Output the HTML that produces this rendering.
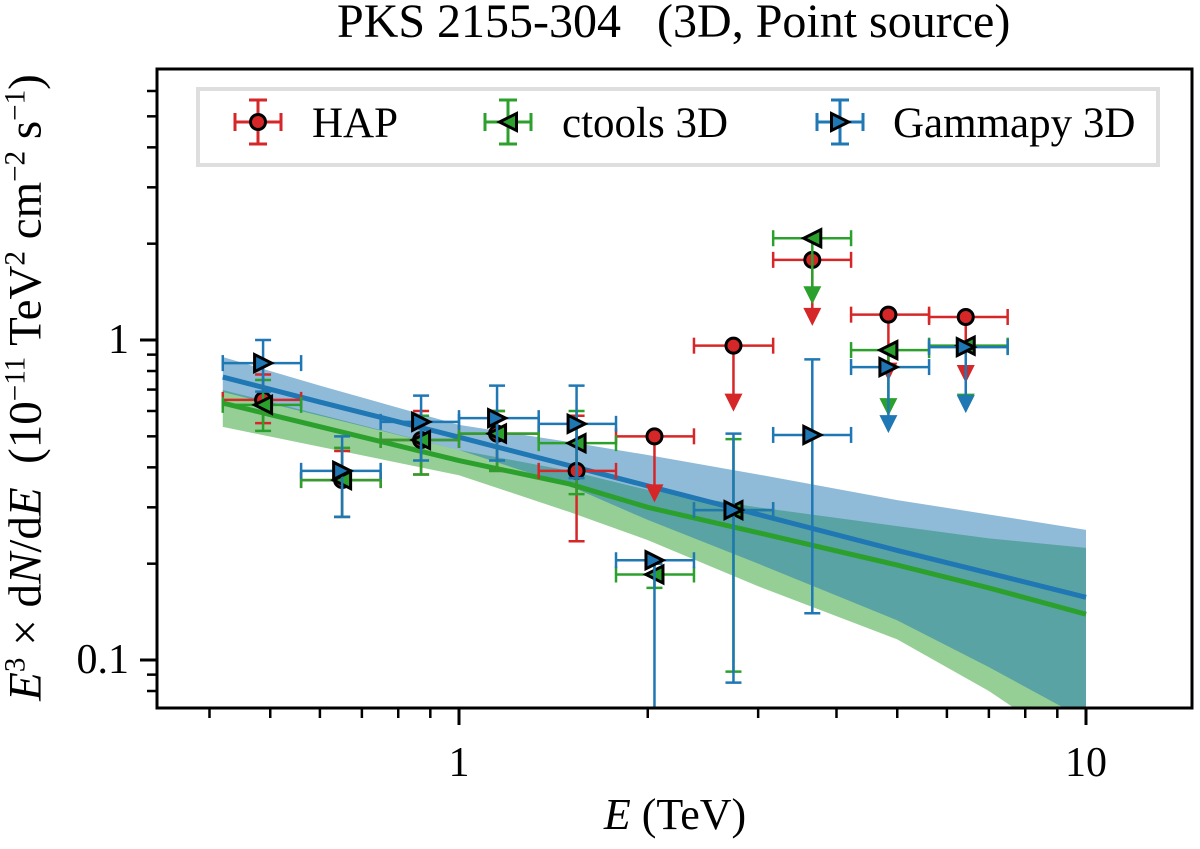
<!DOCTYPE html>
<html><head><meta charset="utf-8"><style>
body{margin:0;background:#fff}
#wrap{position:relative;width:1200px;height:849px;overflow:hidden}
svg{display:block;position:absolute;left:0;top:0}
.tx{position:absolute;white-space:nowrap;font-family:"Liberation Serif","DejaVu Serif",serif;color:#000;line-height:1}
.tx sup{font-size:0.62em;vertical-align:0;position:relative;top:-0.55em}
</style></head><body>
<div id="wrap">
<svg id="chart" width="1200" height="849" viewBox="0 0 1200 849" xmlns="http://www.w3.org/2000/svg">
<g id="bands"></g><g id="lines"></g><g id="points"></g>
<rect x="157" y="69" width="1035" height="639" fill="none" stroke="#000" stroke-width="3"/>
<g id="axes"></g>
<rect x="198" y="89" width="960" height="76" fill="#fff" stroke="#dedede" stroke-width="4"/>
<g id="legend-markers"></g>
</svg>
<div class="tx" style="left:337px;top:-2px;font-size:48px">PKS 2155-304&nbsp;&nbsp; (3D, Point source)</div>
<div class="tx" style="left:0;width:1350px;text-align:center;top:793px;font-size:44px"><i>E</i> (TeV)</div>
<div class="tx" style="left:-374px;width:800px;height:47px;text-align:center;top:364px;font-size:47px;transform:rotate(-90deg)"><i>E</i><sup>3</sup> × d<i>N</i>/d<i>E</i>&nbsp; (10<sup>−11</sup> TeV<sup>2</sup> cm<sup>−2</sup> s<sup>−1</sup>)</div>
<div class="tx" style="left:312px;top:102px;font-size:43px">HAP</div>
<div class="tx" style="left:562px;top:102px;font-size:43px">ctools 3D</div>
<div class="tx" style="left:893px;top:102px;font-size:43px">Gammapy 3D</div>
</div>
<script>
const binEdges=[0.42,0.56,0.75,1.0,1.34,1.78,2.37,3.17,4.22,5.62,7.5];
const binCenters=[0.487,0.651,0.87,1.15,1.54,2.05,2.74,3.66,4.84,6.43];
const hapVals=[0.65,0.365,0.487,0.51,0.39,0.5,0.96,1.78,1.2,1.18];
const hapLo=[0.55,0.28,0.38,0.39,0.235,null,null,null,null,null];
const hapHi=[0.78,0.45,0.6,0.6,0.58,null,null,null,null,null];
const hapUL=[false,false,false,false,false,true,true,true,true,true];
const ctVals=[0.627,0.365,0.487,0.51,0.476,0.185,0.294,2.08,0.93,0.96];
const ctLo=[0.52,0.28,0.38,0.39,0.33,0.168,0.092,null,null,null];
const ctHi=[0.75,0.46,0.58,0.6,0.6,0.2,0.49,null,null,null];
const ctUL=[false,false,false,false,false,false,false,true,true,true];
const gpVals=[0.847,0.39,0.555,0.57,0.547,0.205,0.294,0.505,0.823,0.95];
const gpLo=[0.69,0.28,0.42,0.42,0.37,0.05,0.085,0.14,null,null];
const gpHi=[1.0,0.5,0.67,0.72,0.72,0.2,0.51,0.87,null,null];
const gpUL=[false,false,false,false,false,false,false,false,true,true];
const modelE=[0.42,0.6,1,1.5,2,3,5,7,10];
const gpModel=[0.766,0.64,0.497,0.405,0.35,0.285,0.22,0.187,0.157];
const gpBandHi=[0.885,0.72,0.543,0.48,0.437,0.38,0.316,0.285,0.255];
const gpBandLo=[0.688,0.58,0.453,0.35,0.274,0.2,0.133,0.095,0.065];
const ctModel=[0.635,0.536,0.42,0.355,0.30,0.25,0.198,0.168,0.139];
const ctBandHi=[0.698,0.585,0.453,0.39,0.34,0.30,0.262,0.24,0.224];
const ctBandLo=[0.535,0.464,0.378,0.29,0.237,0.17,0.116,0.08,0.05];
const xMajor=[1,10], xMinor=[0.4,0.5,0.6,0.7,0.8,0.9,2,3,4,5,6,7,8,9];
const yMajor=[0.1,1], yMinor=[0.08,0.09,0.2,0.3,0.4,0.5,0.6,0.7,0.8,0.9,2,3,4,5,6];
const X0=157,X1=1192,Y0=69,Y1=708;
const xs=e=>459+627*Math.log10(e);
const ys=v=>340-320*Math.log10(v);
const NS="http://www.w3.org/2000/svg";
function mk(t,a,p){const el=document.createElementNS(NS,t);for(const k in a)el.setAttribute(k,a[k]);p.appendChild(el);return el;}
const C={hap:"#d62728",ct:"#2ca02c",gp:"#1f77b4"};
const defs=mk('defs',{},document.getElementById('chart'));
const cp=mk('clipPath',{id:'pc'},defs);mk('rect',{x:X0,y:Y0,width:X1-X0,height:Y1-Y0},cp);
const bands=document.getElementById('bands');bands.setAttribute('clip-path','url(#pc)');
function band(hi,lo,col,name){let d='';modelE.forEach((e,i)=>d+=(i?'L':'M')+xs(e)+','+ys(hi[i]));for(let i=modelE.length-1;i>=0;i--)d+='L'+xs(modelE[i])+','+ys(lo[i]);
const p=mk('path',{d:d+'Z',fill:col,'fill-opacity':0.5},bands);

}
band(ctBandHi,ctBandLo,C.ct,'ctools-band');band(gpBandHi,gpBandLo,C.gp,'gammapy-band');
const lines=document.getElementById('lines');lines.setAttribute('clip-path','url(#pc)');
function line(v,col,name){const p=mk('polyline',{points:modelE.map((e,i)=>xs(e)+','+ys(v[i])).join(' '),fill:'none',stroke:col,'stroke-width':5,'stroke-linejoin':'round'},lines);

}
line(ctModel,C.ct,'ctools-model-line');line(gpModel,C.gp,'gammapy-model-line');
function marker(type,x,y,col,g){
if(type==='c')return mk('circle',{cx:x,cy:y,r:7.5,fill:col,stroke:'#000','stroke-width':3},g);
const s=8.5;const pts=type==='l'?[[x-s,y],[x+s,y-s],[x+s,y+s]]:[[x+s,y],[x-s,y-s],[x-s,y+s]];
return mk('polygon',{points:pts.map(p=>p.join(',')).join(' '),fill:col,stroke:'#000','stroke-width':3},g);}
const pts=document.getElementById('points');pts.setAttribute('clip-path','url(#pc)');
function series(vals,lo,hi,ul,col,type,name){
vals.forEach((v,i)=>{const g=mk('g',{},pts);


const x=xs(binCenters[i]),y=ys(v),xa=xs(binEdges[i]),xb=xs(binEdges[i+1]);
const st={stroke:col,'stroke-width':2.5};
mk('line',Object.assign({x1:xa,x2:xb,y1:y,y2:y},st),g);
mk('line',Object.assign({x1:xa,x2:xa,y1:y-8,y2:y+8},st),g);
mk('line',Object.assign({x1:xb,x2:xb,y1:y-8,y2:y+8},st),g);
if(ul[i]){const ye=y+66;mk('line',Object.assign({x1:x,x2:x,y1:y,y2:ye-14},st),g);
mk('polygon',{points:`${x-9},${ye-18} ${x+9},${ye-18} ${x},${ye}`,fill:col},g);}
else{const a=ys(hi[i]),b=ys(lo[i]);mk('line',Object.assign({x1:x,x2:x,y1:a,y2:b},st),g);
mk('line',Object.assign({x1:x-8,x2:x+8,y1:a,y2:a},st),g);mk('line',Object.assign({x1:x-8,x2:x+8,y1:b,y2:b},st),g);}
marker(type,x,y,col,g);});}
series(hapVals,hapLo,hapHi,hapUL,C.hap,'c','hap');
series(ctVals,ctLo,ctHi,ctUL,C.ct,'l','ctools');
series(gpVals,gpLo,gpHi,gpUL,C.gp,'r','gammapy');
const lm=document.getElementById('legend-markers');
[[258,C.hap,'c','legend-marker-hap'],[508,C.ct,'l','legend-marker-ctools'],[840,C.gp,'r','legend-marker-gammapy']].forEach(([x,col,t,n])=>{
const g=mk('g',{},lm);


const st={stroke:col,'stroke-width':3},y=122;
mk('line',Object.assign({x1:x-23,x2:x+23,y1:y,y2:y},st),g);
mk('line',Object.assign({x1:x-23,x2:x-23,y1:y-9,y2:y+9},st),g);mk('line',Object.assign({x1:x+23,x2:x+23,y1:y-9,y2:y+9},st),g);
mk('line',Object.assign({x1:x,x2:x,y1:y-22,y2:y+22},st),g);
mk('line',Object.assign({x1:x-9,x2:x+9,y1:y-22,y2:y-22},st),g);mk('line',Object.assign({x1:x-9,x2:x+9,y1:y+22,y2:y+22},st),g);
marker(t,x,y,col,g);});
const ax=document.getElementById('axes');
const wrap=document.getElementById('wrap');
function label(txt,left,top,align,w){const d=document.createElement('div');d.className='tx';
d.style.cssText=`left:${left}px;top:${top}px;width:${w}px;text-align:${align};font-size:42px`;d.textContent=txt;wrap.appendChild(d);return d;}
xMajor.forEach(v=>{const x=xs(v);const t=mk('line',{x1:x,x2:x,y1:Y1,y2:Y1+17,stroke:'#000','stroke-width':3},ax);

const l=label(String(v),x-60,742,'center',120);
});
xMinor.forEach(v=>{const x=xs(v);if(x<X0||x>X1)return;const t=mk('line',{x1:x,x2:x,y1:Y1,y2:Y1+10,stroke:'#000','stroke-width':2.5},ax);
});
yMajor.forEach(v=>{const y=ys(v);const t=mk('line',{x1:X0-17,x2:X0,y1:y,y2:y,stroke:'#000','stroke-width':3},ax);

const l=label(String(v),X0-148,y-21,'right',120);
});
yMinor.forEach(v=>{const y=ys(v);if(y<Y0||y>Y1)return;const t=mk('line',{x1:X0-10,x2:X0,y1:y,y2:y,stroke:'#000','stroke-width':2.5},ax);
});
</script>
</body></html>
